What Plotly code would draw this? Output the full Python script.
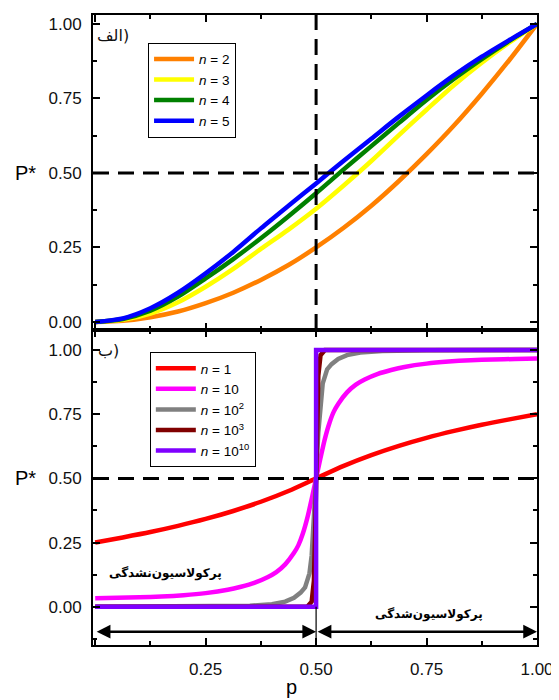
import plotly.graph_objects as go

# ---------------- data ----------------
p_top = [0, 0.0625, 0.125, 0.1875, 0.25, 0.3125, 0.375, 0.4375, 0.5,
         0.5625, 0.625, 0.6875, 0.75, 0.8125, 0.875, 0.9375, 1.0]
top_n2 = [0, 0.004, 0.016, 0.035, 0.063, 0.098, 0.141, 0.191, 0.25,
          0.316, 0.39, 0.473, 0.563, 0.66, 0.766, 0.879, 1.0]
top_n3 = [0, 0.007, 0.028, 0.066, 0.118, 0.178, 0.245, 0.31, 0.38,
          0.458, 0.54, 0.627, 0.712, 0.795, 0.87, 0.938, 1.0]
top_n4 = [0, 0.010, 0.038, 0.085, 0.146, 0.211, 0.281, 0.355, 0.432,
          0.512, 0.59, 0.668, 0.745, 0.816, 0.882, 0.943, 1.0]
top_n5 = [0, 0.012, 0.046, 0.098, 0.163, 0.235, 0.314, 0.39, 0.465,
          0.541, 0.615, 0.689, 0.76, 0.828, 0.89, 0.946, 1.0]
top_labels = ["<i>n</i> = 2", "<i>n</i> = 3", "<i>n</i> = 4", "<i>n</i> = 5"]
top_colors = ["#FF8000", "#FFFF00", "#008000", "#0000FF"]

p_n1 = [0, 0.0625, 0.125, 0.1875, 0.25, 0.3125, 0.375, 0.4375, 0.5,
        0.5625, 0.625, 0.6875, 0.75, 0.8125, 0.875, 0.9375, 1.0]
bot_n1 = [0.25, 0.27, 0.291, 0.315, 0.342, 0.373, 0.409, 0.451, 0.5,
          0.549, 0.591, 0.627, 0.658, 0.685, 0.709, 0.73, 0.75]

p_n10 = [0, 0.05, 0.1, 0.15, 0.2, 0.25, 0.3, 0.33, 0.36, 0.39, 0.41, 0.43,
         0.45, 0.46, 0.47, 0.48, 0.49, 0.5, 0.51, 0.52, 0.53, 0.54, 0.55,
         0.57, 0.59, 0.61, 0.64, 0.67, 0.7, 0.75, 0.8, 0.85, 0.9, 0.95, 1.0]
bot_n10 = [0.033, 0.035, 0.037, 0.04, 0.045, 0.053, 0.066, 0.078, 0.093, 0.115,
           0.135, 0.165, 0.21, 0.24, 0.285, 0.345, 0.42, 0.5, 0.58, 0.655,
           0.715, 0.76, 0.79, 0.835, 0.865, 0.885, 0.907, 0.922, 0.934, 0.947,
           0.955, 0.96, 0.963, 0.965, 0.967]

p_n100 = [0, 0.25, 0.35, 0.4, 0.43, 0.45, 0.465, 0.475, 0.485, 0.49, 0.495,
          0.5, 0.505, 0.51, 0.515, 0.525, 0.535, 0.55, 0.57, 0.6, 0.65, 0.75, 1.0]
bot_n100 = [0, 0.001, 0.004, 0.01, 0.02, 0.035, 0.055, 0.075, 0.13, 0.2, 0.32,
            0.5, 0.68, 0.8, 0.87, 0.925, 0.945, 0.965, 0.98, 0.99, 0.996, 0.999, 1.0]

p_n1000 = [0, 0.48, 0.49, 0.495, 0.498, 0.5, 0.502, 0.505, 0.51, 0.52, 1.0]
bot_n1000 = [0, 0.0, 0.02, 0.1, 0.3, 0.5, 0.7, 0.9, 0.98, 1.0, 1.0]

p_n1e10 = [0, 0.25, 0.5, 0.5, 0.75, 1.0]
bot_n1e10 = [0, 0, 0, 1, 1, 1]

bot_labels = ["<i>n</i> = 1", "<i>n</i> = 10", "<i>n</i> = 10<sup>2</sup>",
              "<i>n</i> = 10<sup>3</sup>", "<i>n</i> = 10<sup>10</sup>"]
bot_colors = ["#FF0000", "#FF00FF", "#808080", "#800000", "#7F00FF"]

y_ticks = [0, 0.25, 0.5, 0.75, 1.0]
x_ticks = [0, 0.25, 0.5, 0.75, 1.0]
x_ticktext = ["", "0.25", "0.50", "0.75", "1.00"]

FONT = "Arial, 'Liberation Sans', sans-serif"

fig = go.Figure()

for ys, lab, col in zip([top_n2, top_n3, top_n4, top_n5], top_labels, top_colors):
    fig.add_trace(go.Scatter(x=p_top, y=ys, mode="lines", name=lab,
                             line=dict(color=col, width=4.5, shape="spline", smoothing=0.8),
                             xaxis="x", yaxis="y", legend="legend"))

bot_series = [(p_n1, bot_n1, "spline"), (p_n10, bot_n10, "spline"),
              (p_n100, bot_n100, "linear"), (p_n1000, bot_n1000, "linear"),
              (p_n1e10, bot_n1e10, "linear")]
for (xs, ys, shp), lab, col in zip(bot_series, bot_labels, bot_colors):
    fig.add_trace(go.Scatter(x=xs, y=ys, mode="lines", name=lab,
                             line=dict(color=col, width=4.5, shape=shp, smoothing=0.8),
                             xaxis="x2", yaxis="y2", legend="legend2"))

axis_common = dict(showline=True, linewidth=2, linecolor="black", mirror="allticks",
                   ticks="inside", ticklen=7, tickwidth=1.5, tickcolor="black",
                   showgrid=False, zeroline=False, automargin=False,
                   tickfont=dict(family=FONT, size=17, color="#111"))
minor_common = dict(ticks="inside", ticklen=4, tickwidth=1.5, tickcolor="black",
                    tickmode="linear", tick0=0, dtick=0.125, showgrid=False)

fig.update_layout(
    width=551, height=692,
    margin=dict(l=85, r=22, t=7, b=55),
    paper_bgcolor="white", plot_bgcolor="white",
    showlegend=True,
    font=dict(family=FONT, color="black"),
    xaxis=dict(axis_common, domain=[0, 1], anchor="y", range=[-0.005, 1.0],
               tickmode="array", tickvals=x_ticks, showticklabels=False,
               minor=minor_common),
    yaxis=dict(axis_common, domain=[0.5, 1], anchor="x", range=[-0.027, 1.03],
               tickmode="array", tickvals=y_ticks, tickformat=".2f",
               ticklabelstandoff=6, minor=minor_common),
    xaxis2=dict(axis_common, domain=[0, 1], anchor="y2", range=[-0.005, 1.0],
                tickmode="array", tickvals=x_ticks, ticktext=x_ticktext,
                ticklabelstandoff=8, minor=minor_common),
    yaxis2=dict(axis_common, domain=[0, 0.5], anchor="x2", range=[-0.149, 1.078],
                tickmode="array", tickvals=y_ticks, tickformat=".2f",
                ticklabelstandoff=6, minor=minor_common),
    legend=dict(x=0.124, y=0.956, xanchor="left", yanchor="top",
                bgcolor="white", bordercolor="black", borderwidth=1,
                font=dict(family=FONT, size=13.5), itemwidth=40,
                tracegroupgap=0),
    legend2=dict(x=0.128, y=0.465, xanchor="left", yanchor="top",
                 bgcolor="white", bordercolor="black", borderwidth=1,
                 font=dict(family=FONT, size=13.5), itemwidth=40,
                 tracegroupgap=0),
)

dash_line = dict(color="black", width=3, dash="16px,9px")
# top panel reference lines
fig.add_shape(type="line", xref="x", yref="y domain", x0=0.5, x1=0.5, y0=0, y1=1,
              line=dash_line)
fig.add_shape(type="line", xref="x domain", yref="y", x0=0, x1=1, y0=0.5, y1=0.5,
              line=dash_line)
# bottom panel reference lines
fig.add_shape(type="line", xref="x2 domain", yref="y2", x0=0, x1=1, y0=0.5, y1=0.5,
              line=dash_line)
fig.add_shape(type="line", xref="x2", yref="y2", x0=0.5, x1=0.5, y0=-0.149, y1=0.0,
              line=dict(color="black", width=1.2))

# double-headed arrows
for x_a, x_b in [(0.0, 0.5), (0.5, 1.0)]:
    fig.add_annotation(x=x_b, y=-0.097, ax=x_a, ay=-0.097,
                       xref="x2", yref="y2", axref="x2", ayref="y2",
                       text="", showarrow=True, arrowhead=2, arrowside="end+start",
                       arrowsize=1.1, arrowwidth=2.5, arrowcolor="black",
                       standoff=0, startstandoff=0)

# panel labels
fig.add_annotation(x=0.04, y=0.96, xref="x", yref="y", text="الف)",
                   showarrow=False, font=dict(family="DejaVu Sans", size=16, color="#111"))
fig.add_annotation(x=0.03, y=1.0, xref="x2", yref="y2", text="ب)",
                   showarrow=False, font=dict(family="DejaVu Sans", size=16, color="#111"))

# region labels
fig.add_annotation(x=0.16, y=0.13, xref="x2", yref="y2", text="<b>پرکولاسیون‌نشدگی</b>",
                   showarrow=False, font=dict(family="DejaVu Sans", size=12, color="black"))
fig.add_annotation(x=0.755, y=-0.03, xref="x2", yref="y2", text="<b>پرکولاسیون‌شدگی</b>",
                   showarrow=False, font=dict(family="DejaVu Sans", size=12, color="black"))

# axis titles
for yr in ["y", "y2"]:
    fig.add_annotation(x=-0.151, y=0.5, xref="paper", yref=yr, text="P*",
                       showarrow=False, xanchor="center", yanchor="middle",
                       font=dict(family=FONT, size=20, color="black"))
fig.add_annotation(x=0.448, y=-0.066, xref="paper", yref="paper", text="p",
                   showarrow=False, xanchor="center", yanchor="middle",
                   font=dict(family=FONT, size=20, color="black"))

fig.write_html("out.html")
